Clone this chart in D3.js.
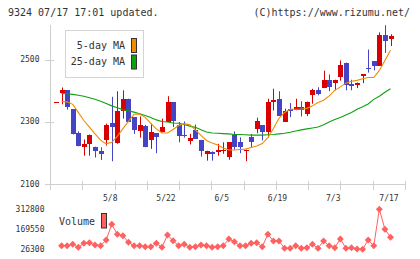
<!DOCTYPE html>
<meta charset="utf-8">
<script src="https://cdn.jsdelivr.net/npm/d3@7"></script>
<style>
  body { margin: 0; background: #fff; }
  text { font-family: "DejaVu Sans Mono", monospace; fill: #333; }
</style>
<div id="chart"></div>
<script>
  // daily candles, oldest first
  const openP  = [2365,2392,2401,2340,2264,2218,2227,2220,2207,2240,2296,2231,2336,2372,2315,2270,2285,2240,2263,2266,
                  2299,2362,2288,2259,2237,2272,2242,2197,2204,2205,2206,2186,2259,2234,2207,2250,2277,2288,2266,2366,
                  2374,2299,2342,2337,2346,2326,2385,2401,2408,2435,2424,2444,2490,2420,2417,2449,2474,2494,2479,2578,2566];
  const highP  = [2365,2410,2401,2340,2269,2243,2259,2220,2218,2294,2380,2398,2401,2374,2315,2317,2290,2294,2263,2310,
                  2382,2362,2299,2301,2261,2291,2242,2207,2205,2229,2234,2234,2269,2250,2210,2261,2313,2288,2374,2406,
                  2398,2342,2360,2374,2366,2365,2406,2411,2464,2452,2435,2497,2490,2435,2426,2452,2532,2494,2587,2610,2581];
  const lowP   = [2365,2356,2339,2259,2221,2191,2191,2185,2177,2223,2173,2229,2310,2299,2261,2249,2218,2213,2199,2266,
                  2299,2283,2234,2249,2227,2245,2188,2175,2175,2191,2197,2178,2210,2199,2173,2218,2263,2240,2250,2336,
                  2320,2299,2315,2337,2317,2318,2358,2385,2408,2398,2401,2432,2401,2401,2408,2424,2458,2465,2479,2521,2543];
  const closeP = [2365,2401,2347,2261,2221,2229,2259,2205,2197,2288,2283,2336,2372,2299,2272,2288,2220,2266,2250,2283,
                  2362,2304,2253,2253,2247,2245,2205,2205,2197,2209,2210,2234,2220,2220,2210,2234,2301,2266,2363,2369,
                  2320,2333,2333,2346,2339,2365,2401,2390,2435,2411,2435,2481,2417,2417,2426,2452,2470,2479,2578,2560,2576];
  const ma5    = [null,2365,2364,2356,2330,2304,2283,2261,2241,2229,2234,2253,2278,2301,2324,2325,2314,2295,2277,2264,
                  2264,2275,2288,2294,2290,2274,2256,2240,2232,2225,2216,2209,2209,2211,2212,2217,2222,2230,2249,2278,
                  2311,2330,2340,2340,2341,2343,2351,2362,2369,2383,2401,2412,2424,2430,2433,2438,2442,2442,2465,2497,2530];
  const ma25   = [null,2391,2390,2388,2385,2382,2377,2372,2366,2359,2351,2345,2339,2335,2331,2326,2320,2314,2306,2301,
                  2299,2296,2295,2291,2286,2282,2274,2267,2264,2263,2262,2261,2259,2259,2258,2257,2257,2257,2258,2259,
                  2261,2263,2266,2270,2274,2277,2280,2283,2290,2299,2307,2314,2322,2330,2340,2348,2357,2372,2382,2395,2406];
  const volume = [null,52000,52000,62100,40600,69300,73600,57100,52000,92900,205400,133700,123700,76400,52000,52000,44900,44900,69300,40600,
                  128700,87900,52000,62100,40600,44900,57100,52000,40600,44900,52000,100100,80700,52000,52000,69300,73600,44900,133700,85700,
                  85700,33500,33500,52000,33500,37800,62100,33500,85700,52000,37800,100100,33500,37800,28400,26300,92900,52000,312800,169550,112250];

  const xLabels   = ["5/8", "5/22", "6/5", "6/19", "7/3", "7/17"];
  const xLabelIdx = [10, 20, 30, 40, 50, 60];
  const priceTicks = [2500, 2300, 2100];
  const volTicks = [312800, 169550, 26300];

  const svg = d3.select('#chart').append('svg')
                .attr('width', 420)
                .attr('height', 259);

  const x = d3.scaleLinear().domain([0, closeP.length - 1]).range([56, 390.5]);
  const y = d3.scaleLinear().domain([2100, 2500]).range([184, 59.5]);
  const yVol = d3.scaleLinear().domain(d3.extent(volume)).range([249.3, 209.3]);
  // evenly spaced frame ticks under the plot
  const frame = d3.scaleLinear().domain([0, 11]).range([50, 405]);

  const grid = '#cfcfcf';

  // header
  svg.append('text').attr('x', 8).attr('y', 12.5).attr('dominant-baseline', 'middle')
     .style('font-size', '10px').text('9324 07/17 17:01 updated.');
  svg.append('text').attr('x', 410).attr('y', 12.5).attr('dominant-baseline', 'middle')
     .attr('text-anchor', 'end').style('font-size', '10px').text('(C)https://www.rizumu.net/');

  // axes frame
  svg.append('line').attr('x1', 50.5).attr('x2', 50.5).attr('y1', 25).attr('y2', 190)
     .attr('stroke', grid);
  svg.append('line').attr('x1', 50).attr('x2', 405).attr('y1', 184.5).attr('y2', 184.5)
     .attr('stroke', grid);
  svg.append('g').selectAll('line')
     .data(d3.range(12))
     .enter().append('line')
     .attr('x1', d => Math.round(frame(d)) + 0.5)
     .attr('x2', d => Math.round(frame(d)) + 0.5)
     .attr('y1', 181).attr('y2', 190)
     .attr('stroke', grid);
  svg.append('g').selectAll('line')
     .data(priceTicks)
     .enter().append('line')
     .attr('x1', 45).attr('x2', 54)
     .attr('y1', d => Math.round(y(d)) + 0.5)
     .attr('y2', d => Math.round(y(d)) + 0.5)
     .attr('stroke', grid);
  svg.append('g').selectAll('text')
     .data(priceTicks)
     .enter().append('text')
     .attr('x', 39.5).attr('y', d => y(d))
     .attr('text-anchor', 'end').attr('dominant-baseline', 'middle')
     .style('font-size', '8px')
     .text(d => d);
  svg.append('g').selectAll('text')
     .data(xLabels)
     .enter().append('text')
     .attr('x', (d, i) => x(xLabelIdx[i]) - 1.5).attr('y', 198.5)
     .attr('text-anchor', 'middle').attr('dominant-baseline', 'middle')
     .style('font-size', '8px')
     .text(d => d);

  // legend
  svg.append('rect').attr('x', 65.5).attr('y', 30.5).attr('width', 78).attr('height', 47)
     .attr('fill', '#fff').attr('stroke', '#d4d4d4');
  const legend = [{name: '5-day MA', color: '#f08c00', y: 45.5},
                  {name: '25-day MA', color: '#10a010', y: 62}];
  legend.forEach(function(l) {
    svg.append('text').attr('x', 125).attr('y', l.y).attr('text-anchor', 'end')
       .attr('dominant-baseline', 'middle').style('font-size', '10px').text(l.name);
    svg.append('rect').attr('x', 131.5).attr('y', l.y - 7).attr('width', 5).attr('height', 14)
       .attr('fill', l.color).attr('stroke', '#333');
  });

  // candles
  const candles = svg.append('g');
  const isUp = i => closeP[i] >= openP[i];
  candles.selectAll('line')
     .data(d3.range(closeP.length))
     .enter().append('line')
     .attr('x1', i => Math.round(x(i)) + 0.5)
     .attr('x2', i => Math.round(x(i)) + 0.5)
     .attr('y1', i => y(highP[i]))
     .attr('y2', i => y(lowP[i]))
     .attr('stroke', i => isUp(i) ? '#d80000' : '#4444c4');
  candles.selectAll('rect')
     .data(d3.range(closeP.length))
     .enter().append('rect')
     .attr('x', i => Math.round(x(i)) - 2)
     .attr('width', 5)
     .attr('y', i => y(Math.max(openP[i], closeP[i])))
     .attr('height', i => Math.max(1.5, Math.abs(y(openP[i]) - y(closeP[i]))))
     .attr('fill', i => isUp(i) ? '#d80000' : '#4444c4')
     .attr('shape-rendering', 'crispEdges');

  // moving averages
  const maLine = arr => d3.line()
     .defined(i => arr[i] != null)
     .x(i => x(i))
     .y(i => y(arr[i]))(d3.range(arr.length));
  svg.append('path').attr('d', maLine(ma25)).attr('fill', 'none')
     .attr('stroke', '#10a010').attr('stroke-width', 1.1);
  svg.append('path').attr('d', maLine(ma5)).attr('fill', 'none')
     .attr('stroke', '#f08c00').attr('stroke-width', 1.1);

  // volume
  svg.append('g').selectAll('text')
     .data(volTicks)
     .enter().append('text')
     .attr('x', 44.5).attr('y', d => yVol(d))
     .attr('text-anchor', 'end').attr('dominant-baseline', 'middle')
     .style('font-size', '8px')
     .text(d => d);
  svg.append('text').attr('x', 59).attr('y', 221.7).attr('dominant-baseline', 'middle')
     .style('font-size', '10px').text('Volume');
  svg.append('rect').attr('x', 101.5).attr('y', 213.5).attr('width', 5).attr('height', 14.5)
     .attr('fill', '#ff6060').attr('stroke', '#333');

  const volLine = d3.line()
     .defined(i => volume[i] != null)
     .x(i => x(i))
     .y(i => yVol(volume[i]));
  svg.append('path').attr('d', volLine(d3.range(volume.length)))
     .attr('fill', 'none').attr('stroke', '#ff6060').attr('stroke-width', 1);
  svg.append('g').selectAll('path')
     .data(d3.range(volume.length).filter(i => volume[i] != null))
     .enter().append('path')
     .attr('d', d3.symbol(d3.symbolSquare, 24))
     .attr('transform', i => 'translate(' + x(i) + ',' + yVol(volume[i]) + ') rotate(45)')
     .attr('fill', '#ff6060');
</script>
